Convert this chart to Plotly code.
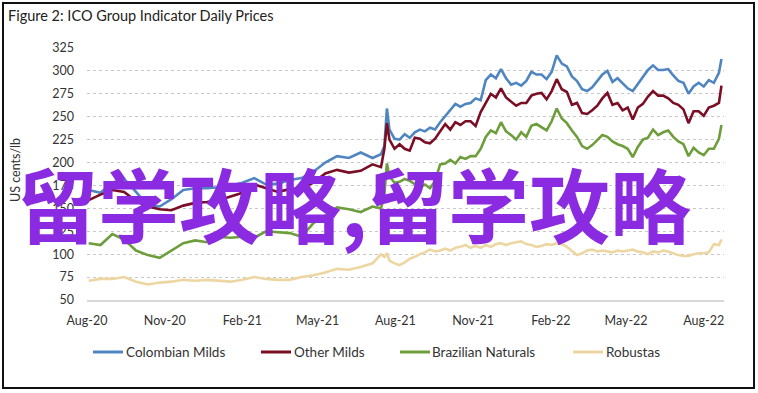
import plotly.graph_objects as go

dates = [
    "2020-08-03", "2020-08-17", "2020-08-31", "2020-09-14", "2020-09-28", "2020-10-12",
    "2020-10-26", "2020-11-09", "2020-11-23", "2020-12-07", "2020-12-21", "2021-01-04",
    "2021-01-18", "2021-02-01", "2021-02-15", "2021-03-01", "2021-03-15", "2021-03-29",
    "2021-04-12", "2021-04-26", "2021-05-10", "2021-05-24", "2021-06-07", "2021-06-21",
    "2021-07-05", "2021-07-15",
    "2021-07-19", "2021-07-22", "2021-07-25", "2021-07-31", "2021-08-06", "2021-08-12",
    "2021-08-18", "2021-08-24", "2021-08-30", "2021-09-05", "2021-09-11", "2021-09-17",
    "2021-09-23", "2021-09-29", "2021-10-05", "2021-10-11", "2021-10-17", "2021-10-23",
    "2021-10-29", "2021-11-04", "2021-11-10", "2021-11-16", "2021-11-22", "2021-11-28",
    "2021-12-04", "2021-12-10", "2021-12-16", "2021-12-22", "2021-12-28", "2022-01-03",
    "2022-01-09", "2022-01-15", "2022-01-21", "2022-01-27", "2022-02-02", "2022-02-08",
    "2022-02-14", "2022-02-20", "2022-02-26", "2022-03-04", "2022-03-10", "2022-03-16",
    "2022-03-22", "2022-03-28", "2022-04-03", "2022-04-09", "2022-04-15", "2022-04-21",
    "2022-04-27", "2022-05-03", "2022-05-09", "2022-05-15", "2022-05-21", "2022-05-27",
    "2022-06-02", "2022-06-08", "2022-06-14", "2022-06-20", "2022-06-26", "2022-07-02",
    "2022-07-08", "2022-07-14", "2022-07-20", "2022-07-26", "2022-08-01", "2022-08-07",
    "2022-08-13", "2022-08-19", "2022-08-22",
]

colombian_milds = [
    170, 167, 178, 182, 168, 153, 152, 160, 170, 172, 172, 173, 175, 178, 183, 176,
    177, 181, 183, 190, 200, 207, 205, 211, 205, 209,
    218, 259, 236, 226, 225, 231, 227, 233, 236, 234, 238, 236, 244, 251, 257, 264,
    261, 264, 265, 270, 268, 290, 296, 292, 302, 292, 285, 287, 284, 289, 299, 296,
    296, 291, 299, 317, 308, 305, 294, 289, 280, 278, 282, 289, 296, 300, 288, 292,
    286, 281, 278, 286, 293, 301, 306, 301, 301, 302, 295, 289, 287, 275, 283, 287,
    283, 290, 287, 298, 313,
]

other_milds = [
    159, 165, 170, 168, 158, 152, 149, 148, 153, 156, 157, 159, 163, 167, 176, 172,
    168, 171, 172, 178, 188, 192, 189, 191, 198, 195,
    215, 243, 225, 215, 220, 215, 213, 227, 226, 222, 221, 226, 234, 242, 236, 244,
    241, 245, 245, 240, 255, 265, 275, 271, 281, 271, 266, 262, 265, 265, 273, 275,
    276, 269, 278, 291, 280, 277, 263, 265, 254, 253, 257, 262, 270, 276, 263, 265,
    257, 260, 247, 260, 264, 272, 278, 273, 273, 270, 265, 263, 258, 243, 256, 256,
    251, 260, 262, 265, 284,
]

brazilian_naturals = [
    112, 110, 122, 116, 104, 99, 96, 104, 112, 115, 113, 119, 118, 119, 118, 125,
    124, 123, 119, 134, 142, 151, 149, 146, 152, 150,
    165, 199, 185, 178, 179, 182, 180, 176, 173, 176, 172, 180, 198, 199, 203, 199,
    206, 204, 207, 207, 215, 228, 235, 232, 244, 234, 230, 225, 233, 228, 240, 242,
    238, 235, 245, 259, 248, 243, 235, 228, 218, 215, 219, 224, 230, 228, 223, 220,
    218, 215, 206, 217, 225, 227, 236, 230, 233, 235, 228, 223, 220, 207, 216, 211,
    208, 215, 215, 226, 241,
]

robustas = [
    71, 73, 73, 75, 70, 67, 69, 70, 72, 71, 72, 71, 70, 72, 75, 73,
    72, 72, 75, 77, 80, 84, 83, 86, 90, 100,
    97, 101, 93, 90, 88, 91, 95, 97, 100, 102, 105, 103, 104, 106, 104, 107,
    108, 110, 107, 109, 107, 110, 108, 111, 112, 110, 112, 113, 114, 111, 110, 108,
    109, 111, 110, 112, 111, 108, 104, 99, 101, 104, 105, 103, 104, 103, 102, 104,
    103, 104, 105, 103, 102, 100, 103, 102, 104, 103, 101, 99, 98, 98, 100, 101,
    101, 102, 111, 110, 116,
]

series_names = ["Colombian Milds", "Other Milds", "Brazilian Naturals", "Robustas"]
series_colors = ["#4F86C1", "#7A0E25", "#6E9E3C", "#EDD6A2"]

tick_vals = ["2020-08-01", "2020-11-01", "2021-02-01", "2021-05-01", "2021-08-01",
             "2021-11-01", "2022-02-01", "2022-05-01", "2022-08-01"]
tick_text = ["Aug-20", "Nov-20", "Feb-21", "May-21", "Aug-21",
             "Nov-21", "Feb-22", "May-22", "Aug-22"]
y_ticks = [50, 75, 100, 125, 150, 175, 200, 225, 250, 275, 300, 325]

FONT = "Lato"
W, H = 758, 393
L, R, T, B = 87, 34, 48, 93
PW, PH = W - L - R, H - T - B


def px(x):
    return (x - L) / PW


def py(y):
    return (H - B - y) / PH


all_series = [colombian_milds, other_milds, brazilian_naturals, robustas]
for s in all_series:
    assert len(s) == len(dates), (len(s), len(dates))

fig = go.Figure()
for name, vals, col in zip(series_names, all_series, series_colors):
    fig.add_trace(go.Scatter(x=dates, y=vals, mode="lines", name=name,
                             line=dict(color=col, width=2.6)))

fig.update_layout(
    width=W, height=H,
    margin=dict(l=L, r=R, t=T, b=B),
    paper_bgcolor="white", plot_bgcolor="white",
    font=dict(family=FONT, size=12, color="#333333"),
    showlegend=False,
    xaxis=dict(type="date", range=["2020-08-01", "2022-08-25"],
               tickvals=tick_vals, ticktext=tick_text, showgrid=False,
               showline=True, linecolor="#D9D9D9", linewidth=1.5,
               ticks="", ticklabelstandoff=8, zeroline=False,
               tickfont=dict(family=FONT, size=12.5, color="#333333")),
    yaxis=dict(range=[50, 325], tickvals=y_ticks, showgrid=True,
               gridcolor="#C8C8C8", griddash="dot", gridwidth=1,
               ticks="", ticklabelstandoff=12, zeroline=False, showline=False,
               tickfont=dict(family=FONT, size=12.5, color="#333333")),
)

# legend drawn at the reference positions
legend_pos = [(93, 126), (261, 294), (400, 432), (573, 606)]
for (lx, tx), name, col in zip(legend_pos, series_names, series_colors):
    fig.add_shape(type="line", xref="paper", yref="paper",
                  x0=px(lx), x1=px(lx + 30), y0=py(352), y1=py(352),
                  line=dict(color=col, width=3))
    fig.add_annotation(text=name, xref="paper", yref="paper", x=px(tx - 2), y=py(352),
                       xanchor="left", yanchor="middle", showarrow=False,
                       font=dict(family=FONT, size=13.5, color="#333333"))

fig.add_annotation(text="Figure 2: ICO Group Indicator Daily Prices", xref="paper", yref="paper",
                   x=px(6), y=py(15), xanchor="left", yanchor="middle", showarrow=False,
                   font=dict(family=FONT, size=14.5, color="#222222"))
fig.add_annotation(text="US cents/lb", xref="paper", yref="paper", textangle=-90,
                   x=px(15), y=py(170), xanchor="center", yanchor="middle", showarrow=False,
                   font=dict(family=FONT, size=12.5, color="#333333"))
fig.add_annotation(text="<b>留学攻略,</b>", xref="paper", yref="paper",
                   x=px(15), y=py(201), xanchor="left", yanchor="middle", showarrow=False,
                   font=dict(family="Noto Sans CJK SC", size=81, color="#8A2BE2"))
fig.add_annotation(text="<b>留学攻略</b>", xref="paper", yref="paper",
                   x=px(365), y=py(201), xanchor="left", yanchor="middle", showarrow=False,
                   font=dict(family="Noto Sans CJK SC", size=81, color="#8A2BE2"))

fig.add_shape(type="rect", xref="paper", yref="paper",
              x0=px(3), x1=px(754), y0=py(388), y1=py(3),
              line=dict(color="#111111", width=2), layer="above")

fig.write_html("out.html", config={"displayModeBar": False},
               post_script="document.body.style.margin='0px';")
